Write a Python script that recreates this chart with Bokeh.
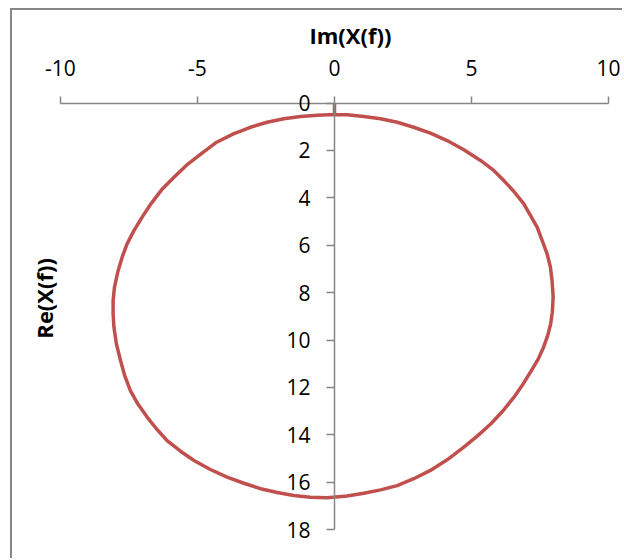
import math
from bokeh.plotting import figure
from bokeh.models import LinearAxis, FixedTicker, Range1d, Label, ColumnDataSource
from bokeh.embed import file_html
from bokeh.resources import INLINE

# Data (Im on horizontal axis, Re on vertical axis)
im_vals = [0.0, 0.0,
           0.46, 1.07, 1.68, 2.29, 2.89, 3.50, 4.11, 4.72, 5.33, 5.81, 6.18, 6.54, 6.91,
           7.15, 7.40, 7.58, 7.76, 7.88, 7.94, 7.98, 7.95, 7.89, 7.78, 7.63, 7.44, 7.19,
           6.89, 6.55, 6.16, 5.71, 5.23, 4.72, 4.11, 3.50, 2.89, 2.29, 1.68, 1.07, 0.46,
           -0.27, -0.88, -1.49, -2.09, -2.70, -3.31, -3.92, -4.53, -5.13, -5.62, -6.11,
           -6.50, -6.84, -7.18, -7.45, -7.66, -7.81, -7.96, -8.05, -8.08, -8.08, -8.03,
           -7.91, -7.75, -7.57, -7.32, -7.02, -6.70, -6.31, -5.86, -5.40, -4.87, -4.30,
           -3.69, -3.07, -2.46, -1.85, -1.24, -0.63, 0.0]
re_vals = [0.0, 0.48,
           0.49, 0.57, 0.66, 0.81, 1.02, 1.27, 1.58, 1.97, 2.42, 2.84, 3.27, 3.72, 4.25,
           4.74, 5.24, 5.80, 6.36, 6.92, 7.49, 8.19, 8.82, 9.31, 9.81, 10.30, 10.79, 11.28,
           11.84, 12.41, 12.97, 13.53, 14.03, 14.52, 15.05, 15.50, 15.85, 16.14, 16.32, 16.46, 16.58,
           16.65, 16.63, 16.56, 16.43, 16.27, 16.04, 15.78, 15.46, 15.08, 14.69, 14.24,
           13.74, 13.25, 12.69, 12.13, 11.49, 10.86, 10.16, 9.46, 8.89, 8.33, 7.77,
           7.13, 6.50, 5.94, 5.38, 4.81, 4.25, 3.66, 3.13, 2.62, 2.14, 1.65,
           1.30, 1.02, 0.81, 0.66, 0.57, 0.51, 0.48]
im_ticks = [-10, -5, 0, 5, 10]
re_ticks = [0, 2, 4, 6, 8, 10, 12, 14, 16, 18]
x_title = "Im(X(f))"
y_title = "Re(X(f))"

AX = "#868686"
RED = "#C0504D"
FONT = "Open Sans"

p = figure(width=612, height=550,
           x_range=Range1d(-11.752, 10.584), y_range=Range1d(19.30, -3.907),
           x_axis_location=None, y_axis_location=None,
           output_backend="svg", toolbar_location=None,
           min_border=0)
p.margin = (8, 0, 0, 10)
p.styles = {"border-left": "2px solid #878787", "border-top": "2px solid #878787"}
p.outline_line_color = None
p.grid.visible = False
p.background_fill_color = "white"
p.border_fill_color = "white"


def style_axis(ax, ticks, standoff, tick_out):
    ax.ticker = FixedTicker(ticks=ticks)
    ax.major_label_overrides = {t: str(t) for t in ticks}
    ax.axis_line_color = AX
    ax.axis_line_width = 1.5
    ax.major_tick_line_color = AX
    ax.major_tick_line_width = 1.5
    ax.major_tick_in = 0
    ax.major_tick_out = tick_out
    ax.minor_tick_line_color = None
    ax.major_label_text_font = FONT
    ax.major_label_text_font_size = "21px"
    ax.major_label_text_color = "black"
    ax.major_label_standoff = standoff


xa = LinearAxis(fixed_location=0, bounds=(min(im_ticks), max(im_ticks)))
style_axis(xa, im_ticks, 20, 7)
p.add_layout(xa, "above")

ya = LinearAxis(fixed_location=0, bounds=(min(re_ticks), max(re_ticks)))
style_axis(ya, re_ticks, 16, 8)
p.add_layout(ya, "left")

src = ColumnDataSource(data=dict(x=im_vals, y=re_vals))
p.line("x", "y", source=src, line_color=RED, line_width=3.5, line_join="round")

p.add_layout(Label(x=0.58, y=-2.87, text=x_title, text_font=FONT, text_font_style="bold",
                   text_font_size="22px", text_align="center", text_baseline="middle",
                   text_color="black"))
p.add_layout(Label(x=-10.62, y=8.24, text=y_title, text_font=FONT, text_font_style="bold",
                   text_font_size="22px", text_align="center", text_baseline="middle",
                   angle=math.pi / 2, text_color="black"))

open("out.html", "w").write(file_html(p, INLINE))
